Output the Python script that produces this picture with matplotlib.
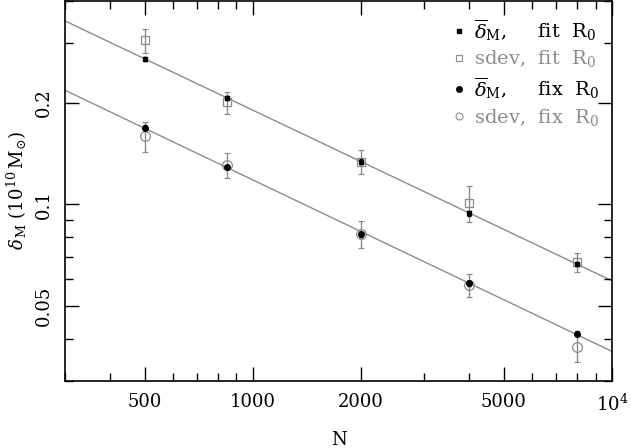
import numpy as np
import matplotlib
matplotlib.use("Agg")
import matplotlib.pyplot as plt
from matplotlib.lines import Line2D
from matplotlib.ticker import FixedLocator, FixedFormatter, NullFormatter

plt.rcParams['font.family'] = ['DejaVu Serif']
plt.rcParams['mathtext.fontset'] = 'dejavuserif'

# particle numbers
n_part = np.array([500, 850, 2000, 4000, 8000])

# fitted R0
fit_mean = np.array([0.270, 0.207, 0.134, 0.094, 0.0666])
fit_mean_err = np.array([0.004, 0.003, 0.002, 0.0015, 0.001])
fit_sdev = np.array([0.307, 0.201, 0.134, 0.101, 0.0674])
fit_sdev_err = np.array([0.025, 0.015, 0.011, 0.0125, 0.0045])

# fixed R0
fix_mean = np.array([0.169, 0.129, 0.0816, 0.0584, 0.0414])
fix_mean_err = np.array([0.003, 0.002, 0.0015, 0.001, 0.0008])
fix_sdev = np.array([0.159, 0.131, 0.0816, 0.0577, 0.0378])
fix_sdev_err = np.array([0.016, 0.011, 0.0075, 0.0045, 0.0037])

x_ticks = [500, 1000, 2000, 5000, 10000]
x_ticklabels = ['500', '1000', '2000', '5000', r'$10^4$']
y_ticks = [0.05, 0.1, 0.2]
y_ticklabels = ['0.05', '0.1', '0.2']

gray = '#8c8c8c'


def main():
    fig = plt.figure(figsize=(6.31, 4.48), dpi=100)
    ax = fig.add_axes([0.103, 0.150, 0.867, 0.847])
    ax.set_xscale('log')
    ax.set_yscale('log')

    # power-law fits through the means
    xx = np.array([300, 10000])
    for mean in (fit_mean, fix_mean):
        p = np.polyfit(np.log10(n_part), np.log10(mean), 1)
        ax.plot(xx, 10 ** np.polyval(p, np.log10(xx)), color=gray, lw=1.0, zorder=1)

    ax.errorbar(n_part, fit_sdev, yerr=fit_sdev_err, fmt='s', ms=6, mfc='none',
                mec=gray, mew=0.9, ecolor=gray, elinewidth=1.0, capsize=2.5, zorder=2)
    ax.errorbar(n_part, fix_sdev, yerr=fix_sdev_err, fmt='o', ms=7, mfc='none',
                mec=gray, mew=0.9, ecolor=gray, elinewidth=1.0, capsize=2.5, zorder=2)
    ax.errorbar(n_part, fit_mean, yerr=fit_mean_err, fmt='s', ms=3.5, color='black',
                elinewidth=1.0, capsize=1.5, zorder=3)
    ax.errorbar(n_part, fix_mean, yerr=fix_mean_err, fmt='o', ms=4, color='black',
                elinewidth=1.0, capsize=1.5, zorder=3)

    ax.set_xlim(300, 10000)
    ax.set_ylim(0.03, 0.4)

    ax.xaxis.set_major_locator(FixedLocator(x_ticks))
    ax.xaxis.set_major_formatter(FixedFormatter(x_ticklabels))
    ax.xaxis.set_minor_locator(FixedLocator([300, 400, 600, 700, 800, 900, 3000, 4000,
                                             6000, 7000, 8000, 9000]))
    ax.xaxis.set_minor_formatter(NullFormatter())
    ax.yaxis.set_major_locator(FixedLocator(y_ticks))
    ax.yaxis.set_major_formatter(FixedFormatter(y_ticklabels))
    ax.yaxis.set_minor_locator(FixedLocator([0.03, 0.04, 0.06, 0.07, 0.08, 0.09, 0.3, 0.4]))
    ax.yaxis.set_minor_formatter(NullFormatter())

    ax.tick_params(which='both', direction='in', top=True, right=True, width=1.0)
    ax.tick_params(which='major', length=10, labelsize=13, pad=9)
    ax.tick_params(which='minor', length=5.5)
    for lab in ax.get_yticklabels():
        lab.set_rotation(90)
        lab.set_va('center')
    for s in ax.spines.values():
        s.set_linewidth(1.2)

    ax.set_xlabel('N', fontsize=13, labelpad=12)
    ax.set_ylabel(r'$\delta_{\,\rm M}\ (10^{10}\,{\rm M}_{\odot})$', fontsize=13, labelpad=4)

    handles = [
        Line2D([], [], ls='none', marker='s', ms=3.5, color='black'),
        Line2D([], [], ls='none', marker='s', ms=5, mfc='none', mec=gray, mew=0.8),
        Line2D([], [], ls='none', marker='o', ms=4, color='black'),
        Line2D([], [], ls='none', marker='o', ms=5, mfc='none', mec=gray, mew=0.8),
    ]
    labels = [
        r'$\overline{\delta}_{\rm M}$,     fit  R$_0$',
        r'sdev,  fit  R$_0$',
        r'$\overline{\delta}_{\rm M}$,     fix  R$_0$',
        r'sdev,  fix  R$_0$',
    ]
    ax.legend(handles, labels, loc='upper right', frameon=False, fontsize=14,
              labelcolor=['black', gray, 'black', gray], handlelength=0.6,
              handletextpad=0.5, labelspacing=0.3, borderaxespad=0.2,
              bbox_to_anchor=(0.998, 0.99))

    fig.savefig('out.png', dpi=100)


if __name__ == '__main__':
    main()
